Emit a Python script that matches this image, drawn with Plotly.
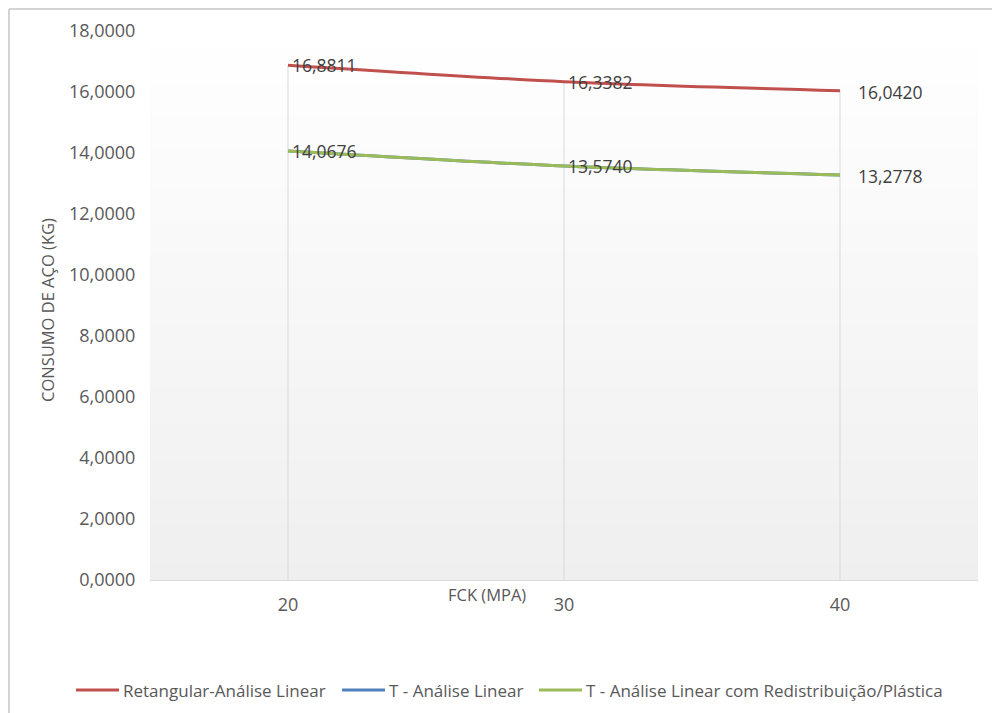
import plotly.graph_objects as go

# Concrete strength classes (MPa) and steel consumption (kg) per design approach
fck = ["20", "30", "40"]
retangular_linear = [16.8811, 16.3382, 16.0420]
t_linear = [14.0676, 13.5740, 13.2778]
t_redistribuicao = [14.0676, 13.5740, 13.2778]

series_names = [
    "Retangular-Análise Linear",
    "T - Análise Linear",
    "T - Análise Linear com Redistribuição/Plástica",
]
series_values = [retangular_linear, t_linear, t_redistribuicao]
series_colors = ["#C0504D", "#4F81BD", "#9BBB59"]

y_ticks = [0, 2, 4, 6, 8, 10, 12, 14, 16, 18]

FONT = "Open Sans"
GREY = "#595959"

# Plot-area placement in pixels, used to convert pixel spots to paper units
PL, PR, PT, PB = 150, 978, 31, 580


def px(xp):
    return (xp - PL) / (PR - PL)


def py(yp):
    return (PB - yp) / (PB - PT)


fig = go.Figure()

# Drop lines from the highest series down to the category axis
tops = [max(v) for v in zip(*series_values)]
for cat, top in zip(fck, tops):
    fig.add_trace(go.Scatter(
        x=[cat, cat], y=[0, top], mode="lines",
        line=dict(color="#d9d9d9", width=1),
        hoverinfo="skip", showlegend=False,
    ))

for name, vals, color in zip(series_names, series_values, series_colors):
    fig.add_trace(go.Scatter(
        x=fck, y=vals, name=name, mode="lines",
        line=dict(color=color, width=3, shape="spline", smoothing=0.8),
        showlegend=False,
    ))

# Value labels (category index used as the annotation position)
label_series = [retangular_linear, t_redistribuicao]
for vals in label_series:
    for i, v in enumerate(vals):
        last = i == len(vals) - 1
        fig.add_annotation(
            x=i, y=v, text=f"{v:.4f}".replace(".", ","),
            showarrow=False, xanchor="left", yanchor="middle",
            xshift=16 if last else 2, yshift=-1 if last else 0,
            font=dict(family=FONT, size=17.5, color="#404040"),
        )

# Plot-area background: light vertical gradient built from thin bands
n_bands = 60
top_rgb = (255, 255, 255)
bottom_rgb = (239, 239, 239)
for k in range(n_bands):
    t = (k + 0.5) / n_bands
    r, g, b = (round(bottom_rgb[c] + (top_rgb[c] - bottom_rgb[c]) * t) for c in range(3))
    fig.add_shape(type="rect", xref="paper", yref="paper",
                  x0=0, x1=1, y0=k / n_bands, y1=(k + 1) / n_bands + 0.002,
                  fillcolor=f"rgb({r},{g},{b})", line=dict(width=0),
                  layer="below")

# Axis titles
fig.add_annotation(
    xref="paper", yref="paper", x=px(487), y=py(594),
    text="FCK (MPA)", showarrow=False, xanchor="center", yanchor="middle",
    font=dict(family=FONT, size=16.5, color=GREY),
)
fig.add_annotation(
    xref="paper", yref="paper", x=px(47), y=py(310),
    text="CONSUMO DE AÇO (KG)", textangle=-90, showarrow=False,
    xanchor="center", yanchor="middle",
    font=dict(family=FONT, size=16.5, color=GREY),
)

# Legend row along the bottom
legend_line_x = [76, 342, 539]
legend_y = 690
for name, color, x0 in zip(series_names, series_colors, legend_line_x):
    fig.add_shape(type="line", xref="paper", yref="paper",
                  x0=px(x0), x1=px(x0 + 43), y0=py(legend_y), y1=py(legend_y),
                  line=dict(color=color, width=3))
    fig.add_annotation(
        xref="paper", yref="paper", x=px(x0 + 45), y=py(legend_y),
        text=name, showarrow=False, xanchor="left", yanchor="middle",
        font=dict(family=FONT, size=17, color=GREY),
    )

# Chart-area frame (left and top edges visible)
fig.add_shape(type="line", xref="paper", yref="paper",
              x0=px(9), x1=px(1100), y0=py(9), y1=py(9),
              line=dict(color="#d4d4d4", width=2))
fig.add_shape(type="line", xref="paper", yref="paper",
              x0=px(9), x1=px(9), y0=py(9), y1=py(800),
              line=dict(color="#d4d4d4", width=2))

fig.update_layout(
    width=992, height=713,
    margin=dict(l=PL, r=992 - PR, t=PT, b=713 - PB, autoexpand=False),
    paper_bgcolor="white", plot_bgcolor="white",
    separators=",.",
    font=dict(family=FONT, color=GREY),
    showlegend=False,
    xaxis=dict(
        type="category", range=[-0.5, 2.5],
        showgrid=False, zeroline=False,
        showline=True, linecolor="#d9d9d9", linewidth=1,
        ticks="outside", ticklen=8, tickcolor="rgba(0,0,0,0)",
        tickfont=dict(family=FONT, size=18, color=GREY),
    ),
    yaxis=dict(
        range=[0, 18], tickvals=y_ticks, tickformat=".4f",
        showgrid=False, zeroline=False, showline=False,
        ticks="outside", ticklen=10, tickcolor="rgba(0,0,0,0)",
        tickfont=dict(family=FONT, size=18, color=GREY),
    ),
)

fig.write_html("out.html")
